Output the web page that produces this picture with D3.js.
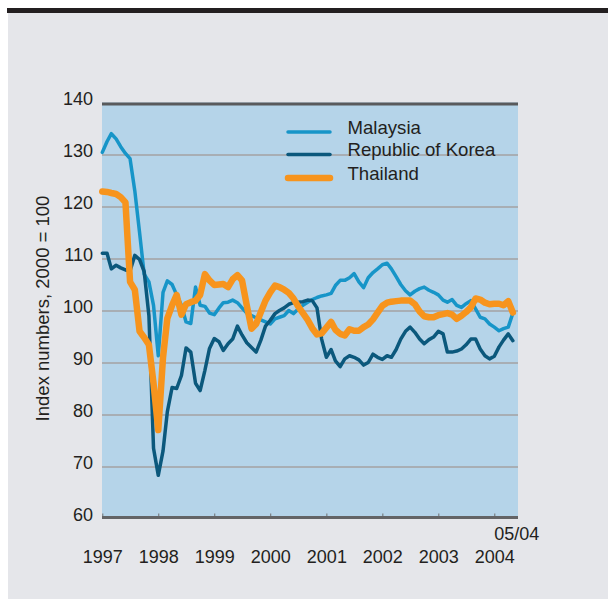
<!DOCTYPE html>
<html lang="en">
<head>
    <meta charset="UTF-8">
    <title>Index numbers, 2000 = 100</title>
    <script src="https://d3js.org/d3.v7.min.js"></script>
    <style>
        body { margin: 0; background: #fff; }
        svg text { font-family: "Liberation Sans", Arial, Helvetica, sans-serif; fill: #231f20; }
    </style>
</head>
<body>
    <script>
        // monthly, Jan 1997 .. May 2004
        const series = ['Malaysia', 'Republic of Korea', 'Thailand'];
        const malaysia = [
            130.4, 132.5, 134, 133, 131.5, 130.2, 129.2, 123, 115, 107, 105.5, 101,
            91.3, 103.5, 105.7, 105, 103, 101, 97.8, 97.5, 104.5, 101, 100.8, 99.5,
            99.2, 100.5, 101.5, 101.6, 102, 101.5, 100.5, 99.5, 99, 98.6, 98.2, 97.8,
            97.4, 98.4, 98.7, 99, 100, 99.4, 100.3, 101, 101.6, 102.1, 102.5, 102.8,
            103, 103.3, 104.8, 105.8, 105.8, 106.3, 107.1, 105.5, 104.4, 106.3, 107.3, 108,
            108.8, 109.1, 108, 106.5, 105, 103.8, 103, 103.7, 104.2, 104.5, 103.9, 103.5,
            103, 102, 101.6, 102.1, 101, 100.6, 101.3, 101.9, 100.3, 98.7, 98.4, 97.4,
            96.8, 96.1, 96.5, 96.8, 99.5
        ];
        const korea = [
            111, 111, 108, 108.7, 108.2, 107.8, 107.6, 110.6, 109.8, 107.5, 99, 73.5,
            68.3, 73, 80.5, 85.2, 85, 87.5, 92.8, 92, 86, 84.6, 88.5, 92.7,
            94.6, 94, 92.3, 93.6, 94.5, 97, 95.3, 93.8, 92.9, 92, 94.3, 97,
            98.1, 99.4, 100, 100.5, 101.2, 101.5, 101.6, 101.7, 102, 101.9, 100.5, 94.5,
            91, 92.5, 90.3, 89.2, 90.7, 91.3, 91, 90.5, 89.5, 90, 91.6, 91,
            90.6, 91.3, 91, 92.5, 94.5, 96, 96.8, 95.8, 94.5, 93.6, 94.4, 94.9,
            96, 95.5, 92, 92, 92.2, 92.6, 93.4, 94.5, 94.5, 92.6, 91.3, 90.7,
            91.2, 93, 94.3, 95.5, 94.2
        ];
        const thailand = [
            122.9, 122.8, 122.6, 122.4, 121.8, 120.8, 105.5, 104, 96, 94.8, 93.4, 86,
            77, 91, 98.5, 101, 103, 99.2, 101.2, 101.6, 101.9, 103, 107, 105.8,
            104.9, 105, 105.1, 104.5, 106, 106.8, 105.8, 101, 96.5, 97.4, 99.7, 101.9,
            103.5, 104.8, 104.5, 104, 103.4, 102.3, 100.8, 99.5, 98.2, 96.6, 95.4, 95.6,
            96.7, 97.8, 96.3, 95.5, 95.2, 96.4, 96.1, 96.1, 96.8, 97.3, 98.3, 99.6,
            100.9, 101.5, 101.7, 101.8, 101.9, 101.9, 101.9, 101.2, 99.8, 98.9, 98.7, 98.7,
            99.1, 99.3, 99.5, 99.2, 98.4, 99, 99.7, 100.6, 102.3, 102.1, 101.5, 101.2,
            101.3, 101.3, 101, 101.8, 99.6
        ];
        const years = [1997, 1998, 1999, 2000, 2001, 2002, 2003, 2004];
        const yTicks = [60, 70, 80, 90, 100, 110, 120, 130, 140];
        const colors = ['#1795c8', '#0b587c', '#f7941d'];
        const widths = [3.5, 3.5, 6.5];

        const months = malaysia.map((d, i) => new Date(1997, i, 1));
        const data = [malaysia, korea, thailand];

        const W = 608, H = 605;
        const svg = d3.select("body").append("svg")
            .attr("width", W)
            .attr("height", H);

        // panel
        svg.append("rect").attr("x", 8).attr("y", 12).attr("width", 600).attr("height", 587).attr("fill", "#e5e6ea");
        svg.append("rect").attr("x", 7).attr("y", 8).attr("width", 601).attr("height", 5).attr("fill", "#231f20");

        const pLeft = 102, pRight = 518, pTop = 102.5, pBottom = 518.5;

        const x = d3.scaleTime()
            .domain([new Date(1997, 0, 1), new Date(2004, 0, 1)])
            .range([102.3, 494.3]);
        const y = d3.scaleLinear()
            .domain([60, 140])
            .range([pBottom, pTop]);

        svg.append("rect")
            .attr("x", pLeft).attr("y", pTop)
            .attr("width", pRight - pLeft).attr("height", pBottom - pTop)
            .attr("fill", "#b5d4e9");

        // gridlines
        svg.append("g")
            .attr("transform", `translate(${pLeft},0)`)
            .call(d3.axisLeft(y).tickValues(yTicks.slice(1, -1)).tickSize(-(pRight - pLeft)).tickFormat(""))
            .call(g => g.select(".domain").remove())
            .call(g => g.selectAll("line").attr("stroke", "#a8aeb4").attr("stroke-width", 2));

        // y labels
        svg.append("g")
            .attr("transform", `translate(${pLeft},0)`)
            .call(d3.axisLeft(y).tickValues(yTicks).tickSize(0).tickPadding(9))
            .call(g => g.select(".domain").remove())
            .call(g => g.selectAll("text").attr("dy", "0.1em").style("font-size", "18px"));

        // frame lines
        svg.append("line").attr("x1", pLeft).attr("x2", pRight).attr("y1", 104).attr("y2", 104)
            .attr("stroke", "#595a5c").attr("stroke-width", 3);

        // x axis
        svg.append("g")
            .attr("transform", `translate(0,517.5)`)
            .call(d3.axisBottom(x).tickValues(years.map(v => new Date(v, 0, 1)))
                .tickSizeInner(-4).tickSizeOuter(0).tickPadding(33).tickFormat(d3.timeFormat("%Y")))
            .call(g => g.select(".domain").remove())
            .call(g => g.selectAll("line").attr("stroke", "#6d6e70").attr("stroke-width", 1))
            .call(g => g.selectAll("text").style("font-size", "18px"));
        svg.append("line").attr("x1", pLeft).attr("x2", pRight).attr("y1", 517.5).attr("y2", 517.5)
            .attr("stroke", "#636466").attr("stroke-width", 3);

        svg.append("text")
            .attr("x", x(new Date(2004, 0, 1)))
            .attr("y", 540)
            .style("font-size", "18px")
            .text("05/04");

        // y title
        svg.append("text")
            .attr("transform", "translate(49,308.5) rotate(-90)")
            .attr("text-anchor", "middle")
            .style("font-size", "18.5px")
            .text("Index numbers, 2000 = 100");

        // lines
        const line = d3.line()
            .x((d, i) => x(months[i]))
            .y(d => y(d));

        svg.selectAll(".series")
            .data(data)
            .enter()
            .append("path")
            .attr("class", "series")
            .attr("d", line)
            .attr("fill", "none")
            .attr("stroke", (d, i) => colors[i])
            .attr("stroke-width", (d, i) => widths[i])
            .attr("stroke-linejoin", "round")
            .attr("stroke-linecap", "round");

        // legend
        const legendY = [132, 154.5, 178];
        const legend = svg.selectAll(".legend")
            .data(series)
            .enter()
            .append("g")
            .attr("class", "legend")
            .attr("transform", (d, i) => `translate(0,${legendY[i]})`);
        legend.append("line")
            .attr("x1", 288).attr("x2", 330)
            .attr("stroke", (d, i) => colors[i])
            .attr("stroke-width", (d, i) => widths[i])
            .attr("stroke-linecap", "round");
        legend.append("text")
            .attr("x", 347.5)
            .attr("y", 1.5)
            .style("font-size", "18.6px")
            .text(d => d);
    </script>
</body>
</html>
